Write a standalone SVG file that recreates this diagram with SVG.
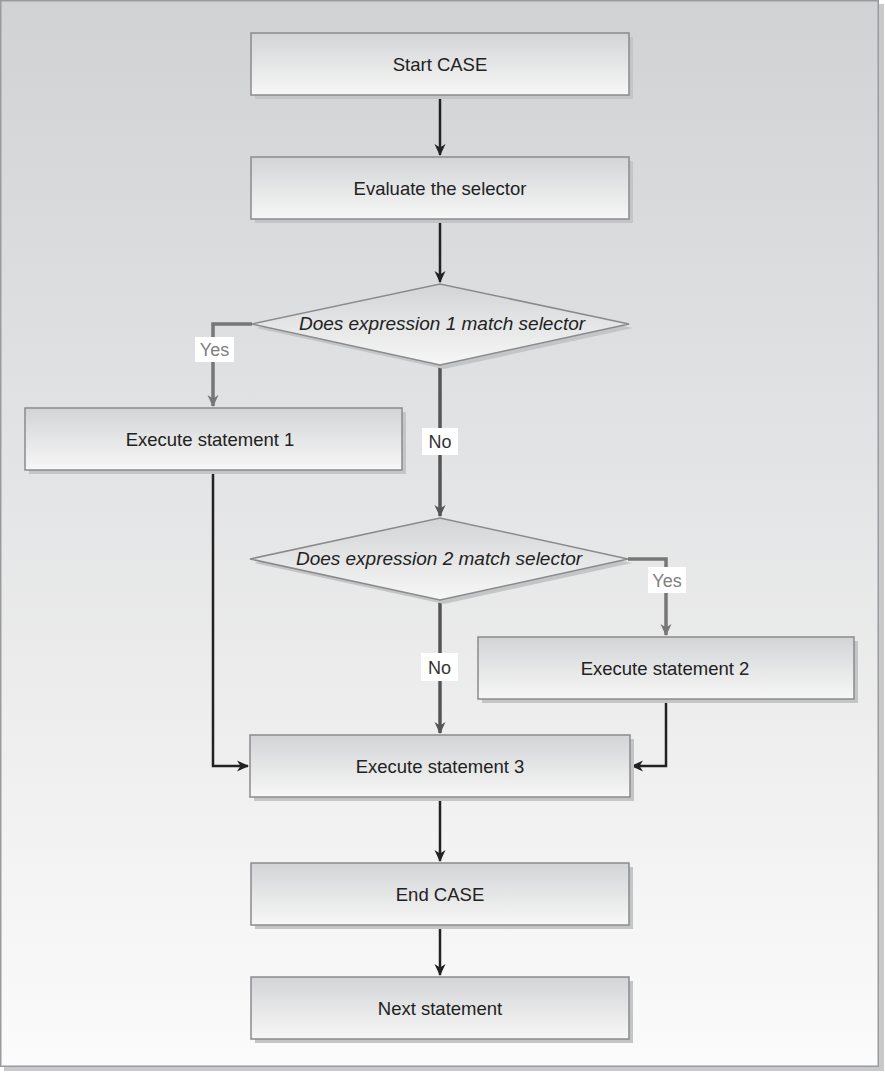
<svg xmlns="http://www.w3.org/2000/svg" width="885" height="1073" viewBox="0 0 885 1073">
<defs>
<linearGradient id="bg" x1="0" y1="0" x2="0" y2="1">
<stop offset="0" stop-color="#d1d2d4"/>
<stop offset="1" stop-color="#fbfbfb"/>
</linearGradient>
<linearGradient id="box" x1="0" y1="0" x2="0" y2="1">
<stop offset="0" stop-color="#d3d4d6"/>
<stop offset="1" stop-color="#f7f7f7"/>
</linearGradient>
<marker id="ak" markerWidth="12" markerHeight="12" refX="11" refY="6" orient="auto" markerUnits="userSpaceOnUse" viewBox="0 0 12 12">
<path d="M0,0.5 L12,6 L0,11.5 L3.5,6 Z" fill="#222"/>
</marker>
<marker id="ag" markerWidth="12" markerHeight="12" refX="11" refY="6" orient="auto" markerUnits="userSpaceOnUse" viewBox="0 0 12 12">
<path d="M0,0.5 L12,6 L0,11.5 L3.5,6 Z" fill="#777"/>
</marker>
<marker id="ad" markerWidth="12" markerHeight="12" refX="11" refY="6" orient="auto" markerUnits="userSpaceOnUse" viewBox="0 0 12 12">
<path d="M0,0.5 L12,6 L0,11.5 L3.5,6 Z" fill="#555"/>
</marker>
</defs>
<style>
.sh{fill:#c4c5c7}
.bx{fill:url(#box);stroke:#8a8b8d;stroke-width:1.5}
.t{font-family:"Liberation Sans",Arial,sans-serif;font-size:18.5px;fill:#222;text-anchor:middle}
.it{font-style:italic;font-size:19px}
.lab{fill:#fff}
.ly{font-family:"Liberation Sans",Arial,sans-serif;font-size:18px;fill:#808080;text-anchor:middle}
.ln{font-family:"Liberation Sans",Arial,sans-serif;font-size:18px;fill:#333;text-anchor:middle}
.ck{fill:none;stroke:#222;stroke-width:2.5}
.cg{fill:none;stroke:#777;stroke-width:3.5}
.cd{fill:none;stroke:#555;stroke-width:3.5}
</style>
<g id="frame">
<rect x="4" y="4" width="880" height="1067" fill="#c8c9cb"/>
<rect x="0.75" y="0.75" width="877.5" height="1065.5" fill="url(#bg)" stroke="#9a9b9e" stroke-width="1.5"/>
</g>
<g id="connectors">
<path class="ck" d="M440,95 V155" marker-end="url(#ak)"/>
<path class="ck" d="M440,219 V282" marker-end="url(#ak)"/>
<path class="cg" d="M252,324 H213 V406" marker-end="url(#ag)"/>
<path class="cd" d="M440,365 V516" marker-end="url(#ad)"/>
<path class="cg" d="M628,559 H666 V635" marker-end="url(#ag)"/>
<path class="cd" d="M440,600 V733" marker-end="url(#ad)"/>
<path class="ck" d="M213,470 V766 H248" marker-end="url(#ak)"/>
<path class="ck" d="M666,699 V766 H632" marker-end="url(#ak)"/>
<path class="ck" d="M440,797 V861" marker-end="url(#ak)"/>
<path class="ck" d="M440,925 V975" marker-end="url(#ak)"/>
<rect class="lab" x="195" y="337" width="39" height="25"/>
<text class="ly" x="214.5" y="356">Yes</text>
<rect class="lab" x="422" y="428" width="36" height="27"/>
<text class="ln" x="440" y="448">No</text>
<rect class="lab" x="648" y="567" width="38" height="26"/>
<text class="ly" x="667" y="587">Yes</text>
<rect class="lab" x="421" y="653" width="37" height="28"/>
<text class="ln" x="439.5" y="674">No</text>
</g>
<g id="start">
<rect class="sh" x="255" y="37" width="378" height="62"/>
<rect class="bx" x="251" y="33" width="378" height="62"/>
<text class="t" x="440" y="71">Start CASE</text>
</g>
<g id="evaluate">
<rect class="sh" x="255" y="161" width="378" height="62"/>
<rect class="bx" x="251" y="157" width="378" height="62"/>
<text class="t" x="440" y="195">Evaluate the selector</text>
</g>
<g id="decision1">
<polygon class="sh" points="256,328 444,288 633,328 444,369"/>
<polygon class="bx" points="252,324 440,284 629,324 440,365"/>
<text class="t it" x="442" y="330">Does expression 1 match selector</text>
</g>
<g id="exec1">
<rect class="sh" x="29" y="412" width="377" height="62"/>
<rect class="bx" x="25" y="408" width="377" height="62"/>
<text class="t" x="210" y="446">Execute statement 1</text>
</g>
<g id="decision2">
<polygon class="sh" points="254,563 444,522 632,563 444,604"/>
<polygon class="bx" points="250,559 440,518 628,559 440,600"/>
<text class="t it" x="439" y="565">Does expression 2 match selector</text>
</g>
<g id="exec2">
<rect class="sh" x="482" y="641" width="376" height="62"/>
<rect class="bx" x="478" y="637" width="376" height="62"/>
<text class="t" x="665" y="675">Execute statement 2</text>
</g>
<g id="exec3">
<rect class="sh" x="254" y="739" width="380" height="62"/>
<rect class="bx" x="250" y="735" width="380" height="62"/>
<text class="t" x="440" y="773">Execute statement 3</text>
</g>
<g id="end">
<rect class="sh" x="255" y="867" width="378" height="62"/>
<rect class="bx" x="251" y="863" width="378" height="62"/>
<text class="t" x="440" y="901">End CASE</text>
</g>
<g id="next">
<rect class="sh" x="255" y="981" width="378" height="62"/>
<rect class="bx" x="251" y="977" width="378" height="62"/>
<text class="t" x="440" y="1015">Next statement</text>
</g>
</svg>
